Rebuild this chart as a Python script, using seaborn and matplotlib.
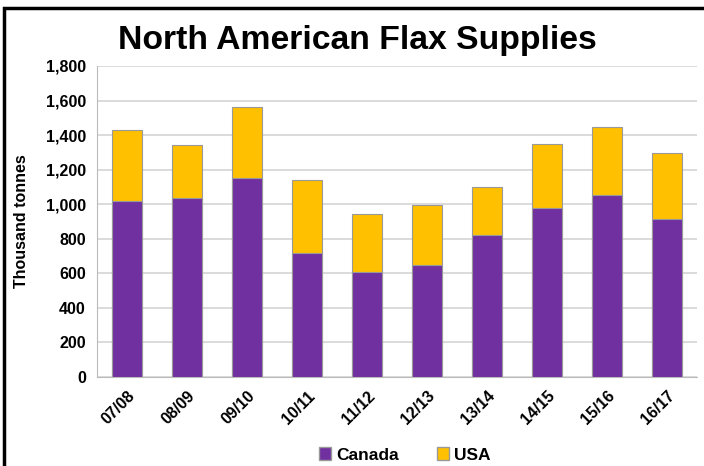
import numpy as np
import pandas as pd
import matplotlib
matplotlib.use("Agg")
import matplotlib.pyplot as plt
import seaborn as sns

# Crop years and supplies (thousand tonnes)
seasons = ["07/08", "08/09", "09/10", "10/11", "11/12",
           "12/13", "13/14", "14/15", "15/16", "16/17"]
canada = [1018, 1038, 1153, 719, 606, 646, 820, 980, 1053, 913]
usa = [411, 305, 411, 421, 335, 347, 278, 367, 396, 385]

df = pd.DataFrame({"season": seasons, "Canada": canada, "USA": usa})
df["total"] = df["Canada"] + df["USA"]

PURPLE = "#7030A0"
GOLD = "#FFC000"

sns.set_theme(style="white")
plt.rcParams["font.family"] = ["Liberation Sans", "DejaVu Sans"]
plt.rcParams["text.color"] = "black"
plt.rcParams["xtick.color"] = "black"
plt.rcParams["ytick.color"] = "black"
plt.rcParams["axes.labelcolor"] = "black"

fig = plt.figure(figsize=(7.04, 4.66), dpi=100)
ax = fig.add_axes([97 / 704, 1 - 377 / 466, 600 / 704, 311 / 466])

# stacked bars: total (USA on top) drawn first, Canada over it
sns.barplot(data=df, x="season", y="total", color=GOLD, width=0.5,
            edgecolor="#999999", linewidth=0.8, saturation=1, ax=ax, zorder=3)
sns.barplot(data=df, x="season", y="Canada", color=PURPLE, width=0.5,
            edgecolor="#999999", linewidth=0.8, saturation=1, ax=ax, zorder=4)

ax.set_ylim(0, 1800)
ax.set_xlim(-0.5, len(seasons) - 0.5)
ax.set_yticks(np.arange(0, 1801, 200))
ax.set_yticklabels([f"{v:,}" for v in range(0, 1801, 200)],
                   fontsize=11.5, fontweight="bold")
ax.set_xticks(range(len(seasons)))
ax.set_xticklabels(seasons, rotation=45, ha="right", rotation_mode="anchor",
                   fontsize=11.5, fontweight="bold")
ax.set_xticks(np.arange(-0.5, len(seasons)), minor=True)
ax.tick_params(axis="x", which="major", length=0, pad=8)
ax.tick_params(axis="x", which="minor", length=5, color="#bbbbbb", width=0.8)
ax.tick_params(axis="y", length=4, color="#bbbbbb", width=0.8, pad=4)

ax.grid(axis="y", color="#d4d4d4", linewidth=1.2, zorder=0)
ax.set_axisbelow(True)
for side in ["top", "right"]:
    ax.spines[side].set_visible(False)
for side in ["left", "bottom"]:
    ax.spines[side].set_color("#bbbbbb")
    ax.spines[side].set_linewidth(0.8)

ax.set_xlabel("")
ax.set_ylabel("Thousand tonnes", fontsize=11.5, fontweight="bold", labelpad=12)

fig.text(0.507, 1 - 40 / 466, "North American Flax Supplies", ha="center",
         va="center", fontsize=24.3, fontweight="bold")

# legend below the chart
handles = [plt.Rectangle((0, 0), 1, 1, facecolor=PURPLE, edgecolor="#999999"),
           plt.Rectangle((0, 0), 1, 1, facecolor=GOLD, edgecolor="#999999")]
fig.legend(handles, ["Canada", "USA"], loc="center",
           bbox_to_anchor=(0.575, 1 - 455 / 466), ncol=2, frameon=False,
           prop={"size": 12.5, "weight": "bold"}, handlelength=0.7,
           handleheight=0.7, handletextpad=0.3, columnspacing=2.2)

# black frame around the figure
frame = plt.Rectangle((4 / 704, -0.05), 1.0, 1 - 8 / 466 + 0.05,
                      transform=fig.transFigure, fill=False,
                      edgecolor="black", linewidth=2.5, clip_on=False)
fig.patches.append(frame)

fig.savefig("out.png", dpi=100)
